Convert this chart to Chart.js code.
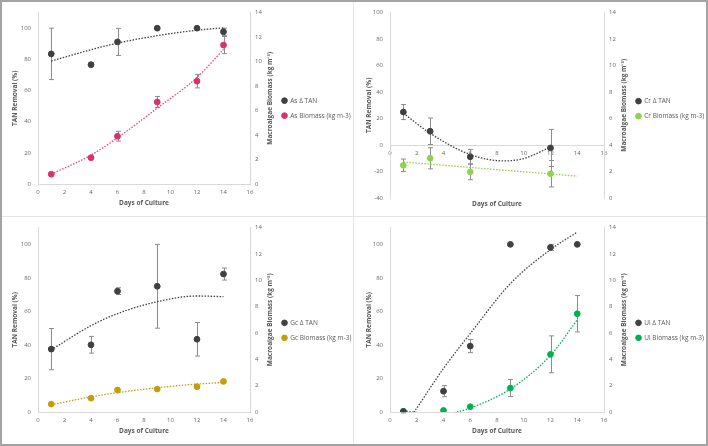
<!DOCTYPE html>
<html>
<head>
<meta charset="utf-8">
<script src="https://cdn.jsdelivr.net/npm/chart.js@4.4.1/dist/chart.umd.min.js"></script>
<style>
  body { margin: 0; background: #fff; }
  #wrap { position: relative; width: 708px; height: 446px; overflow: hidden; }
  canvas { position: absolute; }
  .frame { position: absolute; left: 0; top: 0; width: 708px; height: 446px; box-sizing: border-box; border: 2px solid #a3a3a3; pointer-events: none; }
  .vline { position: absolute; left: 353px; top: 2px; width: 1px; height: 442px; background: #e6e6e6; }
  .hline { position: absolute; left: 2px; top: 216px; width: 704px; height: 1px; background: #e6e6e6; }
</style>
</head>
<body>
<div id="wrap">
  <canvas id="c1" width="351" height="214" style="left:2px;top:2px"></canvas>
  <canvas id="c2" width="352" height="214" style="left:354px;top:2px"></canvas>
  <canvas id="c3" width="351" height="227" style="left:2px;top:217px"></canvas>
  <canvas id="c4" width="352" height="227" style="left:354px;top:217px"></canvas>
  <div class="vline"></div>
  <div class="hline"></div>
  <div class="frame"></div>
</div>
<script>
// tick labels
const dayTicks = [0, 2, 4, 6, 8, 10, 12, 14, 16];
const tanTicks = [0, 20, 40, 60, 80, 100];
const crTanTicks = [-40, -20, 0, 20, 40, 60, 80, 100];
const bioTicks = [0, 2, 4, 6, 8, 10, 12, 14];

// sampling days
const days = [1, 4, 6, 9, 12, 14];
const crDays = [1, 3, 6, 12];

// As
const asTan = [83.5, 76.6, 91.2, 100, 100, 97.7];
const asTanErr = [16.5, 1.3, 8.7, 0, 0, 2.3];
const asBio = [0.8, 2.15, 3.9, 6.7, 8.4, 11.35];
const asBioErr = [0, 0, 0.4, 0.45, 0.55, 0.7];
const asTanTrend = [78.9, 86.2, 90.4, 95.2, 98.7, 100.2];
const asBioTrend = [0.8, 2.36, 3.77, 6.2, 8.7, 11.0];

// Cr
const crTan = [24.9, 10.4, -8.9, -2.2];
const crTanErr = [5.7, 10, 5.6, 14];
const crBio = [2.47, 3.0, 1.98, 1.83];
const crBioErr = [0.47, 0.8, 0.6, 1.0];
const crTanTrendX = [1, 3, 6, 8.5, 10, 12];
const crTanTrend = [24, 8.9, -7.2, -12, -10.2, -1.5];
const crBioTrendX = [1, 14];
const crBioTrend = [2.72, 1.65];

// Gc
const gcTan = [37.5, 40.1, 72.1, 75, 43.4, 82.3];
const gcTanErr = [12.3, 5, 2, 25, 10, 3.6];
const gcBio = [0.6, 1.05, 1.67, 1.74, 1.92, 2.32];
const gcBioErr = [0, 0, 0, 0, 0, 0];
const gcTanTrend = [37.1, 51.5, 58.7, 65.8, 69.2, 68.8];
const gcBioTrend = [0.55, 1.15, 1.47, 1.84, 2.12, 2.24];

// Ul
const ulTan = [0.3, 12.4, 39.3, 100, 98.2, 100];
const ulTanErr = [0, 3.3, 3.9, 0, 1.8, 0];
const ulBio = [0.05, 0.12, 0.4, 1.82, 4.38, 7.46];
const ulBioErr = [0.12, 0, 0, 0.65, 1.4, 1.38];
const ulTanTrendX = [1, 1.8, 4, 6, 9, 12, 14];
const ulTanTrend = [-9, 0, 26, 46.8, 76.6, 96.9, 107.3];
const ulBioTrendX = [1, 1.8, 3.4, 5, 6, 9, 12, 14];
const ulBioTrend = [0.1, 0, -0.2, 0, 0.3, 1.75, 4.3, 7.0];

const axisColor = '#d9d9d9';
const textColor = '#595959';
const tickColor = '#666666';
const tanColor = '#404040';

Chart.defaults.font.family = '"Open Sans", sans-serif';
Chart.defaults.color = textColor;

const pts = (xs, ys) => xs.map((x, i) => ({x: x, y: ys[i]}));

// vertical error bars, drawn under the markers
const errorBars = {
  id: 'errorBars',
  beforeDatasetsDraw(chart) {
    const ctx = chart.ctx;
    ctx.save();
    ctx.strokeStyle = '#8c8c8c';
    ctx.lineWidth = 1;
    chart.data.datasets.forEach((ds, i) => {
      if (!ds.errors) return;
      const meta = chart.getDatasetMeta(i);
      const xs = chart.scales[meta.xAxisID], ys = chart.scales[meta.yAxisID];
      ds.data.forEach((p, j) => {
        const e = ds.errors[j];
        if (!e) return;
        const x = Math.round(xs.getPixelForValue(p.x)) + 0.5;
        const top = ys.getPixelForValue(p.y + e), bot = ys.getPixelForValue(p.y - e);
        ctx.beginPath();
        ctx.moveTo(x, top); ctx.lineTo(x, bot);
        ctx.moveTo(x - 2.5, top); ctx.lineTo(x + 2.5, top);
        ctx.moveTo(x - 2.5, bot); ctx.lineTo(x + 2.5, bot);
        ctx.stroke();
      });
    });
    ctx.restore();
  }
};

// right axis title reads bottom to top like the left one
const rightTitle = {
  id: 'rightTitle',
  afterDraw(chart, args, opts) {
    const {ctx, chartArea} = chart;
    ctx.save();
    ctx.translate(chartArea.right + opts.offset, (chartArea.top + chartArea.bottom) / 2);
    ctx.rotate(-Math.PI / 2);
    ctx.font = 'bold 6.5px "Open Sans", sans-serif';
    ctx.fillStyle = textColor;
    ctx.textAlign = 'center';
    ctx.textBaseline = 'middle';
    ctx.fillText(opts.text, 0, 0);
    ctx.restore();
  }
};

// give the legend a fixed box so its labels are not clipped
const legendWidth = {
  id: 'legendWidth',
  afterInit(chart, args, opts) {
    const lg = chart.legend;
    const fit = lg.fit;
    lg.fit = function () { fit.call(this); this.width = opts.width; };
  }
};

function scatterSet(label, xs, ys, errs, color, axis) {
  return {
    label: label, data: pts(xs, ys), errors: errs, yAxisID: axis,
    backgroundColor: color, borderColor: color, borderWidth: 1,
    pointRadius: 2.9, pointHoverRadius: 2.9, showLine: false, order: 1
  };
}

function trendSet(xs, ys, color, axis) {
  return {
    label: '', trend: true, data: pts(xs, ys), yAxisID: axis,
    borderColor: color, backgroundColor: color, borderWidth: 1.3,
    borderDash: [1.5, 1.5], pointRadius: 0, showLine: true,
    cubicInterpolationMode: 'monotone', order: 2
  };
}

function panel(id, cfg) {
  const c = document.getElementById(id);
  const W = c.width, H = c.height;
  const padB = 8;
  const legendLeft = cfg.marker - 8 - 2.5;
  const tickFont = {size: 6};
  const titleFont = {size: 6.5, weight: 'bold'};
  const noGrid = {display: false, drawTicks: false};

  const scales = {
    x: {
      type: 'linear', min: 0, max: 16,
      position: cfg.xAtZero ? {y: 0} : 'bottom',
      afterBuildTicks: s => { s.ticks = dayTicks.map(v => ({value: v})); },
      afterFit: s => { s.height = H - cfg.bottom - padB; },
      grid: noGrid,
      border: {color: axisColor},
      ticks: {padding: 5, font: tickFont, color: tickColor},
      title: {display: !cfg.xAtZero, text: 'Days of Culture', font: titleFont, color: textColor, padding: {top: 0, bottom: 9.4 - padB}}
    },
    y: {
      position: 'left', min: cfg.yMin, max: cfg.yMax,
      afterBuildTicks: s => { s.ticks = cfg.yTicks.map(v => ({value: v})); },
      afterFit: s => { s.width = cfg.left; },
      grid: noGrid,
      border: {color: axisColor},
      ticks: {padding: 7, font: tickFont, color: tickColor},
      title: {display: true, text: 'TAN Removal (%)', font: titleFont, color: textColor, padding: {top: cfg.ytPad, bottom: 0}}
    },
    y1: {
      position: 'right', min: 0, max: 14,
      afterBuildTicks: s => { s.ticks = bioTicks.map(v => ({value: v})); },
      afterFit: s => { s.width = legendLeft - cfg.right; },
      grid: noGrid,
      border: {color: axisColor},
      ticks: {padding: 5, font: tickFont, color: tickColor}
    }
  };
  if (cfg.xAtZero) {
    scales.x2 = {
      type: 'linear', min: 0, max: 16, position: 'bottom',
      afterFit: s => { s.height = H - cfg.bottom - padB; },
      grid: noGrid, border: {display: false},
      ticks: {display: false},
      title: {display: true, text: 'Days of Culture', font: titleFont, color: textColor, padding: {top: 0, bottom: 8.4 - padB}}
    };
  }

  return new Chart(c, {
    type: 'scatter',
    data: {datasets: cfg.datasets},
    options: {
      responsive: false,
      animation: false,
      events: [],
      layout: {padding: {left: 0, right: 0, top: cfg.top, bottom: padB}},
      scales: scales,
      plugins: {
        tooltip: {enabled: false},
        legend: {
          position: 'right',
          labels: {
            usePointStyle: true, pointStyle: 'circle', boxWidth: 5, boxHeight: 4,
            padding: 8.5, font: {size: 6.5}, color: textColor,
            filter: (item, data) => !data.datasets[item.datasetIndex].trend
          }
        },
        legendWidth: {width: W - legendLeft},
        rightTitle: {text: 'Macroalgae Biomass (kg m\u207B\u00B3)', offset: 20.5}
      }
    },
    plugins: [errorBars, rightTitle, legendWidth]
  });
}

panel('c1', {
  left: 36, right: 248, top: 6.3, bottom: 182, marker: 282, ytPad: 9.4,
  yMin: 0, yMax: 110, yTicks: tanTicks,
  datasets: [
    scatterSet('As \u0394 TAN', days, asTan, asTanErr, tanColor, 'y'),
    scatterSet('As Biomass (kg m-3)', days, asBio, asBioErr, '#dc2f6b', 'y1'),
    trendSet(days, asTanTrend, tanColor, 'y'),
    trendSet(days, asBioTrend, '#e8457a', 'y1')
  ]
});

panel('c2', {
  left: 36, right: 250, top: 7.3, bottom: 196, marker: 284, ytPad: 11, xAtZero: true,
  yMin: -40, yMax: 100, yTicks: crTanTicks,
  datasets: [
    scatterSet('Cr \u0394 TAN', crDays, crTan, crTanErr, tanColor, 'y'),
    scatterSet('Cr Biomass (kg m-3)', crDays, crBio, crBioErr, '#92d050', 'y1'),
    trendSet(crTanTrendX, crTanTrend, tanColor, 'y'),
    trendSet(crBioTrendX, crBioTrend, '#92d050', 'y1')
  ]
});

panel('c3', {
  left: 36, right: 248, top: 7.7, bottom: 195, marker: 282, ytPad: 9.4,
  yMin: 0, yMax: 110, yTicks: tanTicks,
  datasets: [
    scatterSet('Gc \u0394 TAN', days, gcTan, gcTanErr, tanColor, 'y'),
    scatterSet('Gc Biomass (kg m-3)', days, gcBio, gcBioErr, '#c79b0c', 'y1'),
    trendSet(days, gcTanTrend, tanColor, 'y'),
    trendSet(days, gcBioTrend, '#c79b0c', 'y1')
  ]
});

panel('c4', {
  left: 36, right: 250, top: 7.7, bottom: 195, marker: 284, ytPad: 11,
  yMin: 0, yMax: 110, yTicks: tanTicks,
  datasets: [
    scatterSet('Ul \u0394 TAN', days, ulTan, ulTanErr, tanColor, 'y'),
    scatterSet('Ul Biomass (kg m-3)', days, ulBio, ulBioErr, '#00b050', 'y1'),
    trendSet(ulTanTrendX, ulTanTrend, tanColor, 'y'),
    trendSet(ulBioTrendX, ulBioTrend, '#00b050', 'y1')
  ]
});
</script>
</body>
</html>
